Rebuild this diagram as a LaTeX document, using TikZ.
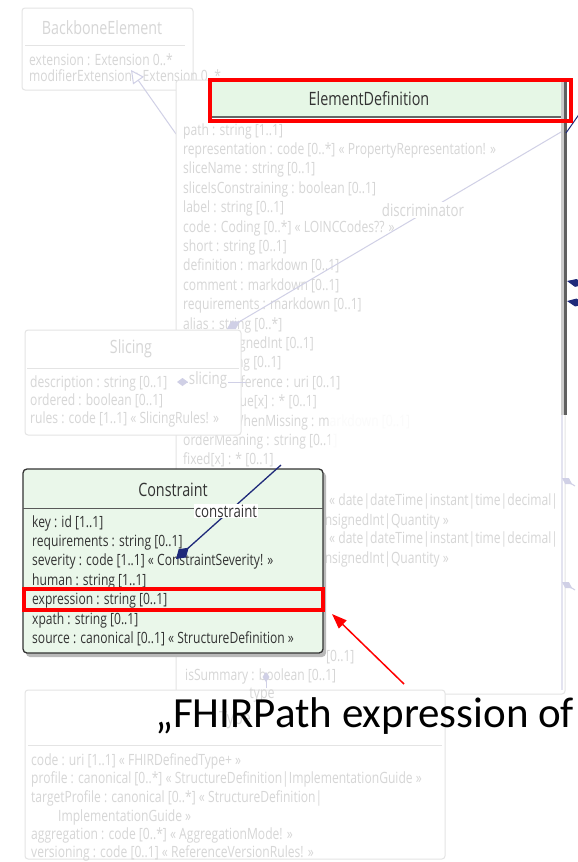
\documentclass[tikz,border=0pt]{standalone}
\usepackage{fontspec}
\setmainfont{Open Sans}
\newfontfamily\umlf{Open Sans}[FakeStretch=0.78]
\newfontfamily\calf{Carlito}
\usetikzlibrary{arrows.meta}

\definecolor{fadetxt}{HTML}{D6D6D6}
\definecolor{fadeline}{HTML}{E4E4E4}
\definecolor{lav}{HTML}{D0D0E6}
\definecolor{mint}{HTML}{EAF7EA}
\definecolor{hdrgreen}{HTML}{E6F7E6}
\definecolor{navy}{HTML}{1F2A7A}
\definecolor{darktxt}{HTML}{333333}
\definecolor{redmark}{HTML}{FF0000}

\begin{document}
\begin{tikzpicture}[x=1pt,y=-1pt,
  frow/.style={anchor=base west,inner sep=0pt,text=fadetxt,font=\umlf\fontsize{15.5}{17}\selectfont},
  crow/.style={anchor=base west,inner sep=0pt,text=darktxt,font=\umlf\fontsize{15.5}{17}\selectfont},
  ftitle/.style={inner sep=0pt,text=fadetxt,font=\umlf\fontsize{18.3}{20}\selectfont},
  ctitle/.style={inner sep=0pt,text=darktxt,font=\umlf\fontsize{18.4}{20}\selectfont},
  fbox/.style={draw=fadeline,fill=white,rounded corners=3pt,line width=1pt},
  fsep/.style={draw=fadeline,line width=1pt},
  redbox/.style={draw=redmark,line width=4pt},
  flabel/.style={inner sep=1pt,fill=white,text=fadetxt,font=\umlf\fontsize{17}{19}\selectfont},
]
\path[use as bounding box,fill=white] (0,0) rectangle (578,862);

% BackboneElement
\draw[fbox] (22,8) rectangle (193,90);
\node[ftitle] (bbtitle) at (102,28) {BackboneElement};
\draw[fsep] (25,45) -- (185,45);
\node[frow] (bb1) at (29,65) {extension : Extension 0..*};
\node[frow] (bb2) at (29,81) {modifierExtension : Extension 0..*};

% generalization
\coordinate (genA) at (176,134);
\coordinate (genB) at (131,70);
\draw[lav,line width=1pt,-{Triangle[open,length=13pt,width=13pt,fill=white]}] (genA) -- (genB);

% ElementDefinition box
\draw[fbox] (176,80) rectangle (565,694);
\foreach \t [count=\i from 0] in {%
  path : string [1..1],
  representation : code [0..*] « PropertyRepresentation! »,
  sliceName : string [0..1],
  sliceIsConstraining : boolean [0..1],
  label : string [0..1],
  code : Coding [0..*] « LOINCCodes?? »,
  short : string [0..1],
  definition : markdown [0..1],
  comment : markdown [0..1],
  requirements : markdown [0..1],
  alias : string [0..*],
  min : unsignedInt [0..1],
  max : string [0..1],
  contentReference : uri [0..1],
  defaultValue[x] : * [0..1],
  meaningWhenMissing : markdown [0..1],
  orderMeaning : string [0..1],
  fixed[x] : * [0..1],
  pattern[x] : * [0..1]}
  \node[frow] (ed\i) at (183,{135+19.4*\i}) {\t};

% header of ElementDefinition
\fill[hdrgreen] (210,81) rectangle (563,117);
\draw[gray!60,line width=0.8pt] (210,81) -- (563,81);
\draw[gray!80!black,line width=1.2pt] (210,117) -- (563,117);
\fill[gray!40] (561,80) rectangle (564,415);
\fill[gray!75!black] (564,80) rectangle (567,415);
\node[ctitle] (edtitle) at (369,99) {ElementDefinition};

% light overlay on lower part
\fill[white,opacity=0.9] (330,412) rectangle (561,692);
\draw[lav!60,line width=1.5pt] (562,415) -- (562,690);
\node[frow] (min1) at (329,505) {« date|dateTime|instant|time|decimal|};
\node[frow,anchor=base east] (min2) at (449,525) {integer|positiveInt|unsignedInt|Quantity »};
\node[frow] (max1) at (329,543) {« date|dateTime|instant|time|decimal|};
\node[frow,anchor=base east] (max2) at (449,563) {integer|positiveInt|unsignedInt|Quantity »};
\node[frow] (frag) at (326,661) {[0..1]};
\node[frow] (issum) at (185,680) {isSummary : boolean [0..1]};

% faded arrowheads on the right edge
\coordinate (ra1) at (575,486);
\coordinate (ra1t) at (562,478);
\coordinate (ra2) at (575,590);
\coordinate (ra2t) at (562,582);
\draw[lav,line width=1pt,-{Diamond[length=12pt,width=7pt]}] (ra1) -- (ra1t);
\draw[lav,line width=1pt,-{Diamond[length=12pt,width=7pt]}] (ra2) -- (ra2t);

% navy marks on the right edge
\coordinate (nv1) at (590,286);
\coordinate (nv1t) at (567,281);
\coordinate (nv2) at (590,305);
\coordinate (nv2t) at (567,301);
\draw[navy,line width=1pt,-{Diamond[length=18pt,width=8pt]}] (nv1) -- (nv1t);
\draw[navy,line width=1pt,-{Diamond[length=18pt,width=8pt]}] (nv2) -- (nv2t);
\coordinate (nvA) at (566,133);
\coordinate (nvB) at (580,113);
\draw[navy,line width=1pt] (nvA) -- (nvB);

% discriminator association
\coordinate (dsA) at (561,132);
\coordinate (dsB) at (227,329);
\draw[lav,line width=1pt,-{Diamond[length=15pt,width=9pt]}] (dsA) -- (dsB);
\node[flabel] (dslabel) at (423,210) {discriminator};

% Slicing box
\draw[fbox] (25,330) rectangle (241,435);
\node[ftitle] (sltitle) at (131,349) {Slicing};
\draw[fsep] (27,368) -- (239,368);
\node[frow] (sl1) at (30,387) {description : string [0..1]};
\node[frow] (sl2) at (30,405) {ordered : boolean [0..1]};
\node[frow] (sl3) at (30,423) {rules : code [1..1] « SlicingRules! »};
\coordinate (slA) at (246,382);
\coordinate (slB) at (177,382);
\draw[lav,line width=1pt,-{Diamond[length=11pt,width=8pt]}] (slA) -- (slB);
\node[flabel] (sllabel) at (208,380) {slicing};

% Constraint box
\fill[gray!55,rounded corners=4pt] (26,472) rectangle (326,657);
\draw[draw=darktxt,fill=mint,line width=1.3pt,rounded corners=4pt] (23,469) rectangle (323,653);
\draw[gray!70!black,line width=1pt] (23,508) -- (323,508);
\node[ctitle] (cttitle) at (173,490) {Constraint};
\foreach \t [count=\i from 0] in {%
  key : id [1..1],
  requirements : string [0..1],
  severity : code [1..1] « ConstraintSeverity! »,
  human : string [1..1],
  expression : string [0..1],
  xpath : string [0..1],
  source : canonical [0..1] « StructureDefinition »}
  \node[crow] (ct\i) at (32,{527+19.4*\i}) {\t};

% constraint association
\coordinate (caA) at (281,465);
\coordinate (caB) at (176,559);
\draw[navy,line width=1.3pt,-{Diamond[length=17pt,width=11pt]}] (caA) -- (caB);
\node[inner sep=1pt,fill=white,text=darktxt,font=\umlf\fontsize{17}{19}\selectfont] (calabel) at (226,511) {constraint};

% Type box
\draw[fbox] (25,690) rectangle (445,859);
\node[ftitle] (tytitle) at (235,720) {Type};
\draw[fsep] (28,745) -- (442,745);
\node[frow] (ty1) at (31,765) {code : uri [1..1] « FHIRDefinedType+ »};
\node[frow] (ty2) at (31,783) {profile : canonical [0..*] « StructureDefinition|ImplementationGuide »};
\node[frow] (ty3) at (31,802) {targetProfile : canonical [0..*] « StructureDefinition|};
\node[frow] (ty4) at (58,821) {ImplementationGuide »};
\node[frow] (ty5) at (31,839) {aggregation : code [0..*] « AggregationMode! »};
\node[frow] (ty6) at (31,857) {versioning : code [0..1] « ReferenceVersionRules! »};
\coordinate (tyA) at (266,672);
\coordinate (tyB) at (266,688);
\draw[lav,line width=1pt,-{Diamond[length=10pt,width=7pt]}] (tyB) -- (tyA);
\node[inner sep=0pt,text=fadetxt,font=\umlf\fontsize{16}{18}\selectfont] (tylabel) at (262,695) {type};

% highlights
\draw[redbox] (210,80) rectangle (571,121);
\draw[redbox] (24,589) rectangle (323,610);
\coordinate (rArrowStart) at (404,684);
\coordinate (rArrowEnd) at (332,614);
\draw[redmark,line width=1.5pt,-{Triangle[length=15pt,width=11pt]}] (rArrowStart) -- (rArrowEnd);
\node[anchor=base west,inner sep=0pt,text=black,font=\calf\fontsize{43}{50}\selectfont] (note) at (155,727) {„FHIRPath expression of};
\end{tikzpicture}
\end{document}
